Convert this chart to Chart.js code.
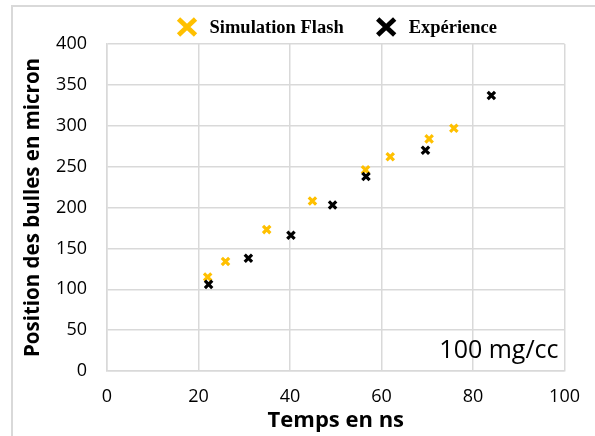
<!DOCTYPE html>
<html>
<head>
<meta charset="utf-8">
<script src="https://cdn.jsdelivr.net/npm/chart.js@4/dist/chart.umd.min.js"></script>
<style>
  html, body { margin: 0; padding: 0; background: #fff; }
  #wrap { position: relative; width: 595px; height: 436px; }
  #cadre { position: absolute; left: 11px; top: 5px; width: 600px; height: 450px;
           border-left: 2px solid #d9d9d9; border-top: 2px solid #d9d9d9; pointer-events: none; }
</style>
</head>
<body>
<div id="wrap">
  <canvas id="graphe" width="595" height="436"></canvas>
  <div id="cadre"></div>
</div>
<script>
// Données (100 mg/cc)
const tempsSimulation = [22.0, 25.9, 34.9, 44.9, 56.5, 61.9, 70.4, 75.8];
const positionSimulation = [115, 134, 173, 208, 246, 262, 284, 297];
const tempsExperience = [22.2, 30.9, 40.2, 49.3, 56.6, 69.6, 84.0];
const positionExperience = [106, 138, 166, 203, 238, 270, 337];
const ticksX = [0, 20, 40, 60, 80, 100];
const ticksY = [0, 50, 100, 150, 200, 250, 300, 350, 400];

const JAUNE = '#FFC000';
const NOIR = '#000000';
const GRILLE = '#d9d9d9';

function enPoints(xs, ys) {
    return xs.map((x, i) => ({ x: x, y: ys[i] }));
}

// légende et annotation dessinées à la main
const legendeMaison = {
    id: 'legendeMaison',
    afterDraw(chart) {
        const ctx = chart.ctx;
        const area = chart.chartArea;
        const items = [
            { texte: 'Simulation Flash', couleur: JAUNE },
            { texte: 'Expérience', couleur: NOIR },
        ];
        ctx.save();
        ctx.font = 'bold 18.5px "Liberation Serif", "Times New Roman", serif';
        ctx.textBaseline = 'alphabetic';
        const taille = 21, ecart = 12, entre = 32;
        let total = 0;
        items.forEach((it, i) => {
            it.w = ctx.measureText(it.texte).width;
            total += taille + ecart + it.w + (i ? entre : 0);
        });
        let x = (area.left + area.right) / 2 + 1 - total / 2;
        const yc = 27;
        items.forEach((it, i) => {
            if (i) x += entre;
            ctx.strokeStyle = it.couleur;
            ctx.lineWidth = 4.8;
            ctx.beginPath();
            ctx.moveTo(x + 2, yc - 8);
            ctx.lineTo(x + taille - 2, yc + 8);
            ctx.moveTo(x + taille - 2, yc - 8);
            ctx.lineTo(x + 2, yc + 8);
            ctx.stroke();
            x += taille + ecart;
            ctx.fillStyle = '#000';
            ctx.fillText(it.texte, x, 33);
            x += it.w;
        });

        ctx.font = '25px "Open Sans", sans-serif';
        ctx.textAlign = 'right';
        ctx.fillStyle = '#000';
        ctx.fillText('100 mg/cc', area.right - 6, area.bottom - 13);
        ctx.restore();
    }
};

const policeTicks = { family: '"Open Sans", sans-serif', size: 18 };

new Chart(document.getElementById('graphe'), {
    type: 'scatter',
    data: {
        datasets: [
            {
                label: 'Simulation Flash',
                data: enPoints(tempsSimulation, positionSimulation),
                pointStyle: 'crossRot',
                radius: 5.2,
                borderWidth: 3.2,
                borderColor: JAUNE,
                backgroundColor: JAUNE,
                order: 1,
            },
            {
                label: 'Expérience',
                data: enPoints(tempsExperience, positionExperience),
                pointStyle: 'crossRot',
                radius: 5.2,
                borderWidth: 3.2,
                borderColor: NOIR,
                backgroundColor: NOIR,
                order: 0,
            },
        ],
    },
    options: {
        responsive: false,
        animation: false,
        layout: { padding: { top: 44, right: 30, left: 0, bottom: 0 } },
        plugins: {
            legend: { display: false },
            tooltip: { enabled: false },
        },
        scales: {
            x: {
                type: 'linear',
                min: 0,
                max: 100,
                afterBuildTicks: (axis) => { axis.ticks = ticksX.map(v => ({ value: v })); },
                afterFit: (axis) => { axis.height = 65; },
                ticks: { font: policeTicks, color: '#000', padding: 15 },
                grid: { color: GRILLE, lineWidth: 1.5, drawTicks: false },
                border: { color: GRILLE, width: 1.5 },
                title: {
                    display: true,
                    text: 'Temps en ns',
                    color: '#000',
                    font: { family: '"Open Sans", sans-serif', size: 22, weight: 'bold' },
                    padding: { top: 0, bottom: 2 },
                },
            },
            y: {
                min: 0,
                max: 400,
                afterBuildTicks: (axis) => { axis.ticks = ticksY.map(v => ({ value: v })); },
                afterFit: (axis) => { axis.width = 107; },
                ticks: { font: policeTicks, color: '#000', padding: 20 },
                grid: { color: GRILLE, lineWidth: 1.5, drawTicks: false },
                border: { color: GRILLE, width: 1.5 },
                title: {
                    display: true,
                    text: 'Position des bulles en micron',
                    color: '#000',
                    font: { family: '"Open Sans", sans-serif', size: 20.5, weight: 'bold' },
                    padding: { top: 21, bottom: 0 },
                },
            },
        },
    },
    plugins: [legendeMaison],
});
</script>
</body>
</html>
